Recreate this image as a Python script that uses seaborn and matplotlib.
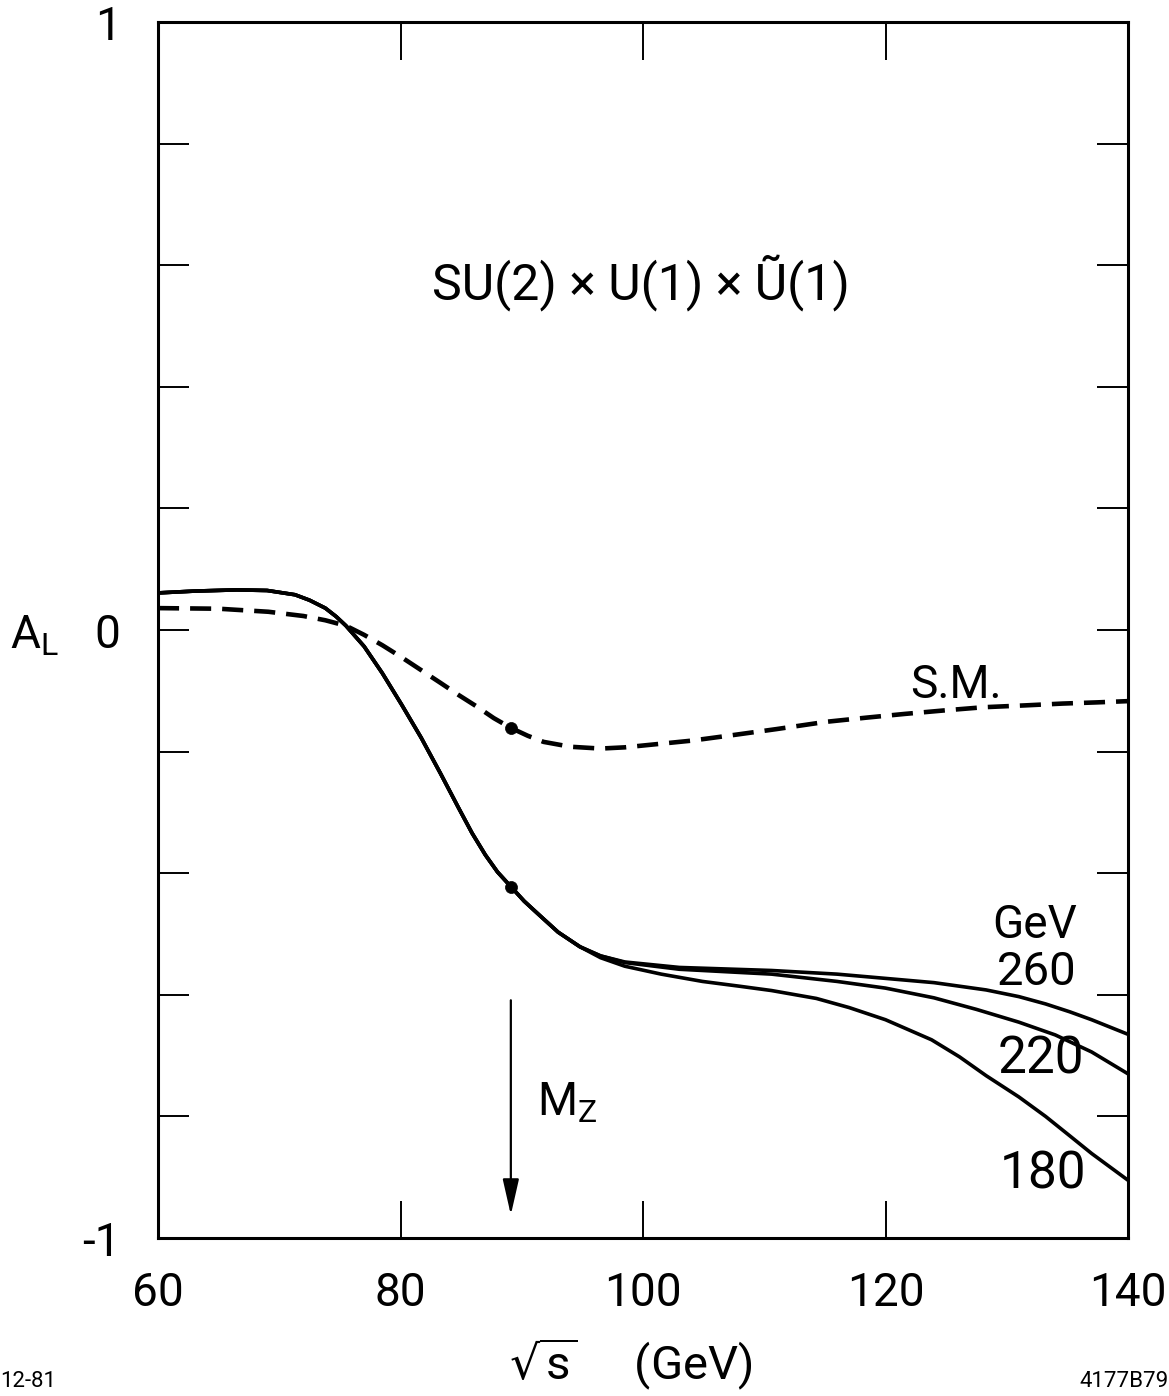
import numpy as np
import pandas as pd
import matplotlib
matplotlib.use("Agg")
import matplotlib.pyplot as plt
import seaborn as sns

# Left-right asymmetry A_L versus centre-of-mass energy sqrt(s) [GeV]
mz = 89.1

# Standard Model (dashed)
sm_x = [60, 65, 69.1, 72, 73.8, 75.5, 77, 78.5, 80.1, 81.7, 83.3, 84.8, 86.3,
        87.7, 89.1, 90.5, 91.8, 94.0, 96.5, 98.5, 100.5, 104, 107.0, 111,
        115.1, 118.5, 121.6, 125, 128.1, 131.5, 134.6, 137.5, 140]
sm_y = [0.036, 0.035, 0.030, 0.023, 0.016, 0.007, -0.008, -0.025, -0.045,
        -0.066, -0.087, -0.107, -0.126, -0.145, -0.161, -0.174, -0.184,
        -0.192, -0.195, -0.193, -0.189, -0.182, -0.174, -0.163, -0.151,
        -0.144, -0.138, -0.132, -0.127, -0.124, -0.121, -0.119, -0.117]

# SU(2) x U(1) x U~(1): part shared by all extra-boson masses
ext_x = [60, 63, 66.5, 69, 71.3, 72.5, 73.8, 74.7, 75.5, 77.0, 78.5, 80.1,
         81.7, 83.3, 84.8, 85.9, 87.0, 88.0, 89.1, 90.2, 91.4, 93.0, 94.8]
ext_y = [0.061, 0.064, 0.066, 0.065, 0.058, 0.049, 0.036, 0.022, 0.007,
         -0.027, -0.071, -0.123, -0.177, -0.236, -0.293, -0.334, -0.370,
         -0.398, -0.422, -0.446, -0.468, -0.497, -0.521]

# branches for extra-boson masses 260, 220 and 180 GeV
b260_x = [96.5, 98.5, 103, 110.6, 116, 120, 124, 128.3, 131, 133.2, 135.2,
          137, 140]
b260_y = [-0.536, -0.546, -0.555, -0.560, -0.566, -0.573, -0.580, -0.592,
          -0.603, -0.615, -0.628, -0.641, -0.665]
b220_x = [96.5, 98.5, 103, 110.6, 116, 120, 124, 127.5, 131, 134, 137, 140]
b220_y = [-0.536, -0.547, -0.558, -0.566, -0.578, -0.589, -0.605, -0.624,
          -0.645, -0.666, -0.694, -0.730]
b180_x = [96.5, 98.5, 101.5, 104.9, 108, 110.6, 114.3, 117, 120, 123.8,
          126.1, 128.3, 131, 133.2, 135.2, 137, 140]
b180_y = [-0.539, -0.553, -0.566, -0.578, -0.586, -0.593, -0.606, -0.621,
          -0.641, -0.674, -0.702, -0.733, -0.768, -0.800, -0.832, -0.861,
          -0.905]

masses = ["260", "220", "180"]
branches = {"260": (b260_x, b260_y), "220": (b220_x, b220_y),
            "180": (b180_x, b180_y)}

mz_points_y = [sm_y[sm_x.index(mz)], ext_y[ext_x.index(mz)]]

x_ticks = [60, 80, 100, 120, 140]
y_ticks = [-1.0, -0.8, -0.6, -0.4, -0.2, 0.0, 0.2, 0.4, 0.6, 0.8, 1.0]
y_ticklabels = ["-1", "", "", "", "", "0", "", "", "", "", "1"]

sns.set_theme(style="ticks")
plt.rcParams["font.family"] = ["Roboto", "DejaVu Sans"]
plt.rcParams["font.weight"] = "normal"
plt.rcParams["mathtext.default"] = "regular"
plt.rcParams["axes.unicode_minus"] = False

fig = plt.figure(figsize=(11.69, 13.96), dpi=100)
fig.patch.set_facecolor("white")
ax = fig.add_axes([0.13516, 0.11318, 0.82977, 0.87106])
ax.set_facecolor("white")

line_kw = dict(color="black", estimator=None, sort=False, ax=ax)

# model curves
for m in masses:
    bx, by = branches[m]
    df = pd.DataFrame({"x": ext_x + bx, "y": ext_y + by})
    sns.lineplot(data=df, x="x", y="y", linewidth=2.6, **line_kw)

# Standard Model curve
sns.lineplot(x=sm_x, y=sm_y, linewidth=3.3, linestyle=(0, (4.6, 2.4)),
             **line_kw)

# values at the Z mass
sns.scatterplot(x=[mz, mz], y=mz_points_y, s=75, color="black",
                edgecolor="black", linewidth=0.5, ax=ax, zorder=5)

ax.set_xlim(60, 140)
ax.set_ylim(-1, 1)
ax.set_xticks(x_ticks)
ax.set_xticklabels([str(v) for v in x_ticks])
ax.set_yticks(y_ticks)
ax.set_yticklabels(y_ticklabels)

for s in ax.spines.values():
    s.set_visible(True)
    s.set_linewidth(2.2)
    s.set_color("black")

ax.tick_params(which="both", direction="in", top=True, right=True,
               width=1.4, color="black", labelsize=33, labelcolor="black")
ax.tick_params(axis="x", length=27, pad=24)
ax.tick_params(axis="y", length=22, pad=27)

ax.set_xlabel(r"$\sqrt{s}$     (GeV)", fontsize=34, color="black")
ax.xaxis.set_label_coords(0.487, -0.081)
ax.set_ylabel("")

# annotations
ax.text(99.8, 0.571, "SU(2) × U(1) × Ũ(1)", ha="center", va="center",
        fontsize=36, color="black")
ax.text(125.8, -0.112, "S.M.", ha="center", va="baseline", fontsize=33,
        color="black")
ax.text(132.3, -0.5066, "GeV", ha="center", va="baseline", fontsize=33,
        color="black")
ax.text(132.5, -0.584, "260", ha="center", va="baseline", fontsize=34,
        color="black")
ax.text(132.8, -0.729, "220", ha="center", va="baseline", fontsize=37,
        color="black")
ax.text(133.0, -0.918, "180", ha="center", va="baseline", fontsize=37,
        color="black")
ax.text(91.26, -0.798, r"$M_Z$", ha="left", va="baseline", fontsize=33,
        color="black")

# arrow marking the Z mass
ax.annotate("", xy=(mz, -0.962), xytext=(mz, -0.609),
            arrowprops=dict(arrowstyle="-|>,head_length=1.1,head_width=0.25",
                            mutation_scale=20, lw=1.6, color="black",
                            shrinkA=0, shrinkB=0))

# y-axis quantity
fig.text(10 / 1169, 1 - 648 / 1396, r"$A_L$", ha="left", va="baseline",
         fontsize=33, color="black")

# figure identifiers
fig.text(0.0, 0.003, "12-81", ha="left", va="bottom", fontsize=16,
         color="black")
fig.text(1.0, 0.003, "4177B79", ha="right", va="bottom", fontsize=16,
         color="black")

fig.savefig("out.png", dpi=100, facecolor="white")
